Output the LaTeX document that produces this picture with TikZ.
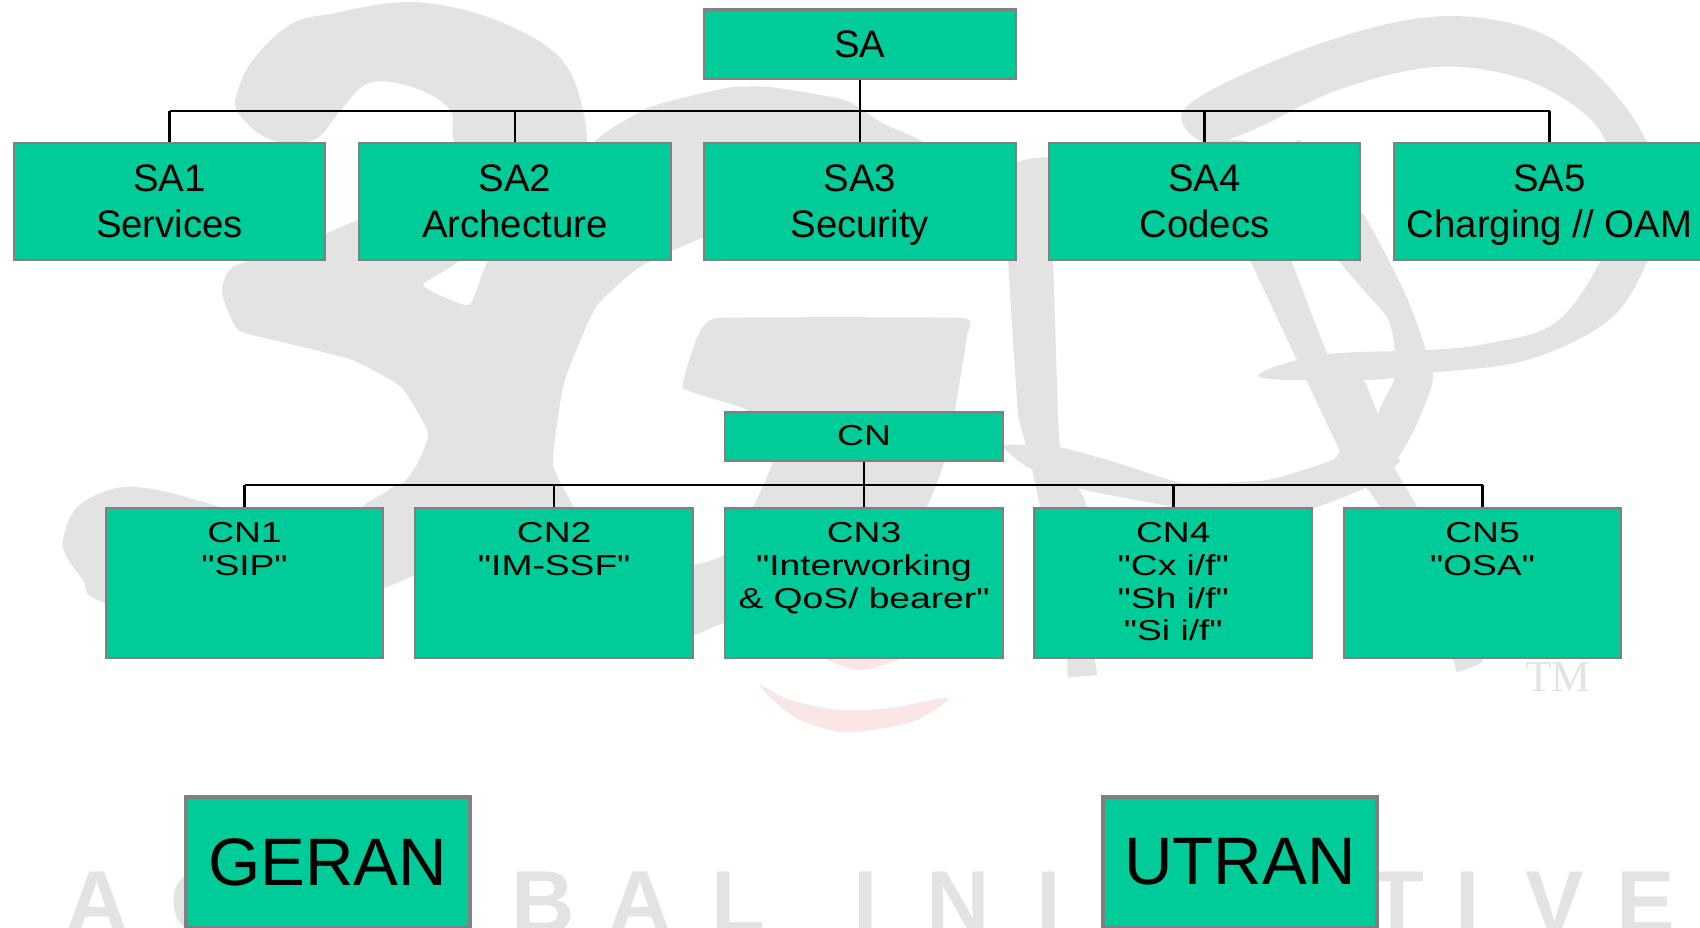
\documentclass[tikz,border=0pt]{standalone}
\usepackage{fontspec}
\usepackage{xcolor}
\setmainfont{Liberation Sans}
\newfontfamily\cnfont[FakeStretch=1.29]{Liberation Sans}
\newfontfamily\tmfont{Liberation Serif}
\definecolor{boxgreen}{HTML}{00CC99}
\definecolor{boxgray}{HTML}{808080}
\definecolor{logogray}{HTML}{E3E3E3}
\definecolor{smilered}{HTML}{FAE6E6}
\tikzset{
    box/.style={draw=boxgray, fill=boxgreen, line width=0.62pt, inner sep=0pt, align=center},
    sabox/.style={box, minimum width=3.115cm, text depth=0pt, font=\fontsize{10.9}{13.05}\selectfont},
    cnbox/.style={box, minimum width=2.775cm, text depth=0.7pt, font=\cnfont\fontsize{8.2}{9.27}\selectfont},
    ranbox/.style={box, line width=1.13pt, minimum height=1.304cm, text depth=0.5pt, font=\fontsize{19.1}{22}\selectfont},
    bus/.style={black, line width=0.68pt},
    logo/.style={fill=logogray},
    wmletter/.style={anchor=base, text=logogray, inner sep=0pt, font=\fontsize{25}{29}\selectfont\bfseries}
}
\begin{document}
\begin{tikzpicture}[x=0.01cm, y=-0.01cm]
            \useasboundingbox (0,0) rectangle (1700,928);
            \clip (0,0) rectangle (1700,928);

            \fill[logo] plot[smooth cycle, tension=0.6] coordinates {(238,113) (238,90) (255,57) (293,23) (336,13) (390,3) (434,4) (488,17) (542,43) (569,70) (583,110) (587,150) (580,200) (520,230) (458,150) (450,110) (412,87) (369,83) (341,110) (314,140) (271,140)};
            \fill[logo] plot[smooth cycle, tension=0.3] coordinates {(358,220) (327,233) (233,267) (222,293) (238,330) (282,342) (352,360) (401,387) (428,433) (417,464) (403,483) (363,507) (420,530) (560,530) (573,507) (553,464) (564,383) (596,307) (640,267) (705,237) (800,215) (900,200) (960,170) (920,140) (882,123) (845,100) (770,87) (726,88) (650,107) (596,140) (560,200) (490,258) (469,305) (423,285) (460,258) (420,200)};
            \fill[logo] plot[smooth cycle, tension=0.6] coordinates {(63,540) (77,507) (117,488) (157,490) (207,503) (300,530) (363,507) (403,483) (430,500) (450,560) (415,575) (384,588) (250,640) (105,603) (83,580) (67,557)};
            \fill[logo] plot[smooth cycle, tension=0.2] coordinates {(718,318) (963,318) (967,335) (955,410) (945,460) (927,507) (880,580) (724,623) (694,635) (620,640) (610,580) (694,565) (724,555) (753,507) (773,460) (747,410) (683,388) (697,338)};
            \fill[logo] plot[smooth cycle, tension=0.1] coordinates {(1016,163) (1048,158) (1053,258) (1058,415) (1060,447) (1087,507) (1095,660) (1097,675) (1068,677) (1067,660) (1040,507) (1030,460) (1018,415) (1008,258)};
            \fill[logo] plot[smooth cycle, tension=0.3] coordinates {(1003,445) (1059,447) (1121,464) (1183,483) (1267,480) (1333,460) (1345,445) (1400,460) (1367,487) (1317,507) (1250,525) (1173,507) (1085,490) (1033,470) (1017,460)};
            \fill[logo] plot[smooth cycle, tension=0.6] coordinates {(1186,107) (1284,57) (1392,23) (1473,17) (1549,37) (1609,87) (1647,142) (1665,200) (1647,262) (1609,320) (1527,360) (1430,373) (1365,380) (1259,377) (1321,355) (1430,350) (1490,343) (1555,323) (1600,262) (1620,200) (1606,142) (1576,107) (1517,77) (1435,67) (1338,90) (1246,133) (1202,142)};
            \fill[logo] plot[smooth cycle, tension=0.1] coordinates {(1202,142) (1248,142) (1292,262) (1327,353) (1365,382) (1378,415) (1392,464) (1417,507) (1483,660) (1457,672) (1453,660) (1380,507) (1338,447) (1251,262)};
            \fill[logo] plot[smooth cycle, tension=0.3] coordinates {(1300,140) (1365,217) (1408,300) (1433,377) (1414,430) (1392,464) (1378,415) (1395,378) (1395,350) (1387,317) (1340,262) (1290,170)};
            \fill[smilered] plot[smooth cycle, tension=0.5] coordinates {(760,685) (790,700) (840,710) (890,708) (948,698) (917,720) (873,730) (840,732) (800,720) (773,700)};
            \fill[smilered] plot[smooth cycle, tension=0.5] coordinates {(823,655) (905,655) (860,670)};

            \node[anchor=base, text=logogray, inner sep=0pt, font=\tmfont\fontsize{12.5}{14}\selectfont] (tm) at (1558,692) {TM};
            \foreach \ch/\x [count=\i] in {A/97, G/205, L/300, O/425, B/543, A/640, L/738, I/866, N/958, I/1049, T/1140, I/1220, A/1300, T/1397, I/1468, V/1555, E/1646}{
                \node[wmletter] (wm\i) at (\x,932) {\ch};
            }

            \coordinate (SAbus) at (859.75,111);
            \coordinate (CNbus) at (864,484.7);

            \node[sabox, minimum height=0.695cm] (SA) at (859.75,44.25) {SA};
            \foreach \n/\x/\lbl in {SA1/169.5/Services, SA2/514.75/Archecture, SA3/859.75/Security, SA4/1204.5/Codecs, SA5/1549.5/{Charging // OAM}}{
                \node[sabox, minimum height=1.167cm] (\n) at (\x,201.35) {\n\\\lbl};
                \draw[bus] (\n.north) -- (\n.north |- SAbus);
            }
            \draw[bus] (SA.south) -- (SAbus);
            \draw[bus] (SA1.north |- SAbus) -- (SA5.north |- SAbus);

            \node[cnbox, minimum height=0.493cm] (CN) at (864,436.35) {CN};
            \foreach \n/\x/\lbl in {CN1/244.5/{"SIP"\\~\\~}, CN2/554.2/{"IM-SSF"\\~\\~}, CN3/864/{"Interworking\\\& QoS/ bearer"\\~}, CN4/1173.3/{"Cx i/f"\\"Sh i/f"\\"Si i/f"}, CN5/1482.5/{"OSA"\\~\\~}}{
                \node[cnbox, minimum height=1.494cm] (\n) at (\x,583) {\n\\\lbl};
                \draw[bus] (\n.north) -- (\n.north |- CNbus);
            }
            \draw[bus] (CN.south) -- (CNbus);
            \draw[bus] (CN1.north |- CNbus) -- (CN5.north |- CNbus);

            \node[ranbox, minimum width=2.843cm] (GERAN) at (327.85,862.5) {GERAN};
            \node[ranbox, minimum width=2.73cm] (UTRAN) at (1240,862.5) {UTRAN};
        \end{tikzpicture}
\end{document}
